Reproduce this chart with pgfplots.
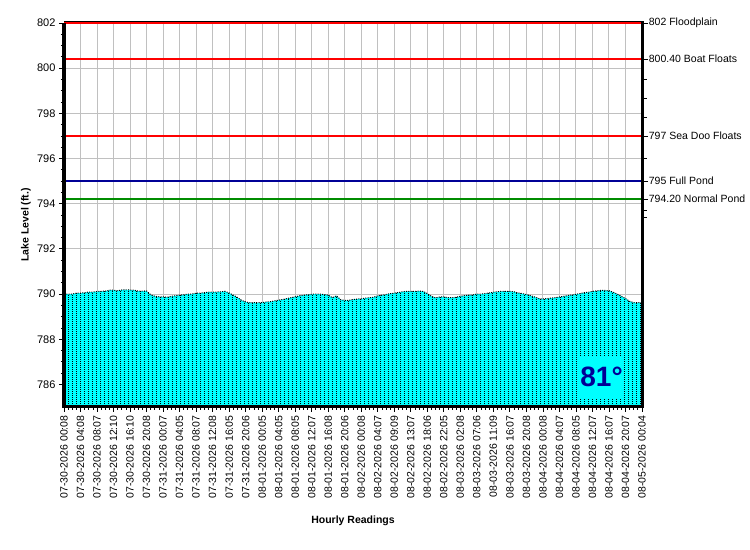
\documentclass[border=0pt]{standalone}
\usepackage{fontspec}
\setmainfont{Liberation Sans}
\usepackage{pgfplots}
\usepackage{pgfplotstable}
\pgfplotsset{compat=1.18}
\usetikzlibrary{patterns}
\definecolor{lakecyan}{HTML}{00FFFF}
\definecolor{fullpondblue}{RGB}{0,0,150}
\definecolor{normalpondgreen}{RGB}{0,140,0}
\definecolor{gridgray}{HTML}{C0C0C0}
\pgfdeclarepatternformonly{lakedots}{\pgfpoint{-0.1bp}{-0.1bp}}{\pgfpoint{1bp}{1bp}}{\pgfpoint{4bp}{2bp}}{\pgfpathrectangle{\pgfpointorigin}{\pgfpoint{0.9bp}{0.9bp}}\pgfusepath{fill}}

\pgfplotstableread{
x y
0 790.00
1 790.00
2 790.00
3 790.04
4 790.04
5 790.06
6 790.09
7 790.09
8 790.11
9 790.12
10 790.13
11 790.17
12 790.17
13 790.15
14 790.18
15 790.18
16 790.18
17 790.17
18 790.13
19 790.13
20 790.14
21 789.97
22 789.90
23 789.88
24 789.88
25 789.86
26 789.90
27 789.92
28 789.95
29 789.97
30 790.00
31 790.00
32 790.04
33 790.04
34 790.06
35 790.09
36 790.09
37 790.09
38 790.10
39 790.12
40 790.05
41 789.95
42 789.85
43 789.72
44 789.65
45 789.62
46 789.62
47 789.62
48 789.62
49 789.65
50 789.66
51 789.70
52 789.73
53 789.76
54 789.80
55 789.84
56 789.88
57 789.92
58 789.95
59 789.97
60 789.99
61 790.00
62 790.00
63 789.98
64 789.95
65 789.84
66 789.92
67 789.75
68 789.72
69 789.72
70 789.76
71 789.78
72 789.79
73 789.82
74 789.84
75 789.86
76 789.92
77 789.95
78 789.98
79 790.02
80 790.04
81 790.07
82 790.10
83 790.12
84 790.12
85 790.12
86 790.13
87 790.12
88 790.02
89 789.90
90 789.83
91 789.87
92 789.88
93 789.84
94 789.84
95 789.86
96 789.90
97 789.93
98 789.95
99 789.96
100 790.00
101 790.00
102 790.02
103 790.05
104 790.08
105 790.10
106 790.12
107 790.12
108 790.12
109 790.10
110 790.05
111 790.02
112 789.98
113 789.93
114 789.87
115 789.80
116 789.78
117 789.80
118 789.82
119 789.84
120 789.87
121 789.90
122 789.93
123 789.96
124 789.99
125 790.02
126 790.06
127 790.08
128 790.12
129 790.14
130 790.16
131 790.16
132 790.15
133 790.08
134 790.00
135 789.90
136 789.80
137 789.68
138 789.62
139 789.62
140 789.62
}\leveltable

\begin{document}
\begin{tikzpicture}
\useasboundingbox (0,0) rectangle (750bp,550bp);
\begin{axis}[
  at={(64bp,143bp)}, anchor=south west,
  scale only axis, width=578bp, height=384bp,
  xmin=0, xmax=140, ymin=785, ymax=802,
  axis line style={draw=none},
  xtick={0,4,...,140},
  xticklabels={07-30-2026 00:08,07-30-2026 04:08,07-30-2026 08:07,07-30-2026 12:10,07-30-2026 16:10,07-30-2026 20:08,
    07-31-2026 00:07,07-31-2026 04:05,07-31-2026 08:07,07-31-2026 12:08,07-31-2026 16:05,07-31-2026 20:06,
    08-01-2026 00:05,08-01-2026 04:05,08-01-2026 08:05,08-01-2026 12:07,08-01-2026 16:08,08-01-2026 20:06,
    08-02-2026 00:08,08-02-2026 04:07,08-02-2026 09:09,08-02-2026 13:07,08-02-2026 18:06,08-02-2026 22:05,
    08-03-2026 02:08,08-03-2026 07:06,08-03-2026 11:09,08-03-2026 16:07,08-03-2026 20:08,
    08-04-2026 00:08,08-04-2026 04:07,08-04-2026 08:05,08-04-2026 12:07,08-04-2026 16:07,08-04-2026 20:07,
    08-05-2026 00:04},
  minor x tick num=3,
  ytick={786,788,...,802}, minor y tick num=3,
  tick align=outside, tick pos=left,
  major tick length=5bp, minor tick length=3bp,
  every tick/.style={black, line width=0.8bp},
  xmajorgrids, ymajorgrids,
  major grid style={gridgray, line width=1bp},
  tick label style={font=\fontsize{10.5bp}{12bp}\selectfont},
  yticklabel style={font=\fontsize{11bp}{12bp}\selectfont},
  x tick label style={rotate=90, anchor=east},
  /pgf/number format/assume math mode=true,
  clip mode=individual,
]
\addplot[draw=none, fill=lakecyan, postaction={pattern=lakedots}] table {\leveltable} -- (axis cs:140,785) -- (axis cs:0,785) -- cycle;
\addplot[black, line width=1bp, dash pattern=on 1bp off 1.3bp] table {\leveltable};
\addplot[draw=red, line width=2.2bp] coordinates {(0,800.4) (140,800.4)};
\addplot[draw=red, line width=2.2bp] coordinates {(0,797) (140,797)};
\addplot[draw=fullpondblue, line width=1.4bp] coordinates {(0,795) (140,795)};
\addplot[draw=normalpondgreen, line width=1.4bp] coordinates {(0,794.2) (140,794.2)};
\draw[black, line width=1bp] ([yshift=1.5bp]rel axis cs:0,1) -- ([yshift=1.5bp]rel axis cs:1,1);
\addplot[draw=red, line width=2.2bp] coordinates {(0,802) (140,802)};
\draw[black, line width=3bp] (rel axis cs:0,1) -- (rel axis cs:0,0) -- (rel axis cs:1,0) -- ([yshift=1.5bp]rel axis cs:1,1);
\node[fill=lakecyan, text=fullpondblue, font=\bfseries\fontsize{28bp}{30bp}\selectfont, minimum width=44bp, minimum height=42bp, inner sep=0pt] at (rel axis cs:0.930,0.078) {81°};
\begin{scope}[font=\fontsize{10.5bp}{12bp}\selectfont]
\draw[line width=0.8bp] ([xshift=1.5bp]axis cs:140,802) -- ([xshift=5.5bp]axis cs:140,802) node[right, inner sep=1bp] {802 Floodplain};
\draw[line width=0.8bp] ([xshift=1.5bp]axis cs:140,800.4) -- ([xshift=5.5bp]axis cs:140,800.4) node[right, inner sep=1bp] {800.40 Boat Floats};
\draw[line width=0.8bp] ([xshift=1.5bp]axis cs:140,797) -- ([xshift=5.5bp]axis cs:140,797) node[right, inner sep=1bp] {797 Sea Doo Floats};
\draw[line width=0.8bp] ([xshift=1.5bp]axis cs:140,795) -- ([xshift=5.5bp]axis cs:140,795) node[right, inner sep=1bp] {795 Full Pond};
\draw[line width=0.8bp] ([xshift=1.5bp]axis cs:140,794.2) -- ([xshift=5.5bp]axis cs:140,794.2) node[right, inner sep=1bp] {794.20 Normal Pond};
\draw[line width=0.8bp] ([xshift=1.5bp]axis cs:140,799.5) -- ([xshift=4.5bp]axis cs:140,799.5);
\draw[line width=0.8bp] ([xshift=1.5bp]axis cs:140,798.65) -- ([xshift=4.5bp]axis cs:140,798.65);
\draw[line width=0.8bp] ([xshift=1.5bp]axis cs:140,797.8) -- ([xshift=4.5bp]axis cs:140,797.8);
\draw[line width=0.8bp] ([xshift=1.5bp]axis cs:140,796) -- ([xshift=4.5bp]axis cs:140,796);
\draw[line width=0.8bp] ([xshift=1.5bp]axis cs:140,793.7) -- ([xshift=4.5bp]axis cs:140,793.7);
\draw[line width=0.8bp] ([xshift=1.5bp]axis cs:140,793.4) -- ([xshift=4.5bp]axis cs:140,793.4);
\end{scope}
\end{axis}
\node[font=\bfseries\fontsize{10.5bp}{12bp}\selectfont] at (353bp,29bp) {Hourly Readings};
\node[rotate=90, font=\bfseries\fontsize{10.5bp}{12bp}\selectfont] at (26bp,325bp) {Lake Level (ft.)};
\end{tikzpicture}
\end{document}
